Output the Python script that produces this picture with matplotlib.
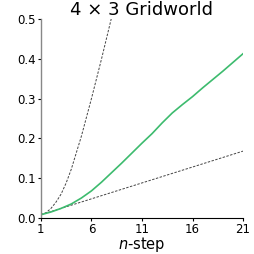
import matplotlib
matplotlib.use("Agg")
import matplotlib.pyplot as plt

# n-step values
steps = list(range(1, 22))
green_vals = [0.008, 0.015, 0.024, 0.035, 0.05, 0.068, 0.09, 0.114, 0.138, 0.163,
              0.188, 0.212, 0.239, 0.264, 0.285, 0.305, 0.327, 0.348, 0.369, 0.391, 0.413]
upper_steps = [1, 1.5, 2, 2.5, 3, 3.5, 4, 5, 6, 7, 8, 9]
upper_vals = [0.008, 0.013, 0.024, 0.04, 0.06, 0.088, 0.122, 0.205, 0.30, 0.40, 0.505, 0.61]
lower_steps = [1, 21]
lower_vals = [0.008, 0.168]
xticks = [1, 6, 11, 16, 21]

fig = plt.figure(figsize=(2.54, 2.54), dpi=100)
ax = fig.add_axes([0.161, 0.142, 0.796, 0.783])

ax.plot(upper_steps, upper_vals, color="#444444", linestyle=(0, (2.5, 1.5)), linewidth=0.7)
ax.plot(lower_steps, lower_vals, color="#444444", linestyle=(0, (2.5, 1.5)), linewidth=0.7)
ax.plot(steps, green_vals, color="#3dbb6e", linewidth=1.2)

ax.set_xlim(1, 21)
ax.set_ylim(0, 0.5)
ax.set_xticks(xticks)
ax.set_yticks([0.0, 0.1, 0.2, 0.3, 0.4, 0.5])
ax.tick_params(labelsize=8.5, length=2.5, width=0.8, pad=1)
ax.spines["top"].set_visible(False)
ax.spines["right"].set_visible(False)
ax.spines["left"].set_color("#888888")
ax.spines["left"].set_linewidth(1.0)
ax.set_xlabel("$n$-step", fontsize=10.5, labelpad=-0.5)
ax.set_title("4 × 3 Gridworld", fontsize=13, pad=2)

fig.savefig("out.png", dpi=100)
